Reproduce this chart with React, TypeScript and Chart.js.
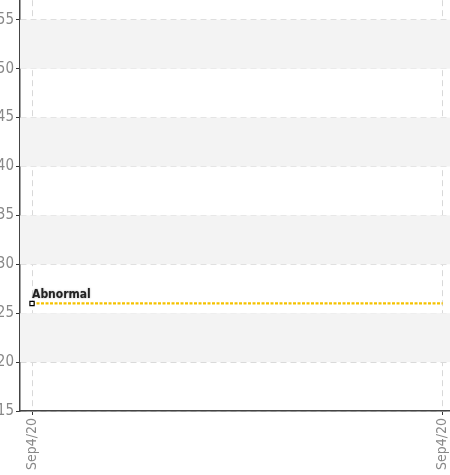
import React, { useEffect, useRef } from "react";
import { Chart, registerables } from "chart.js";

Chart.register(...registerables);

const tickDates = ["Sep4/20", "Sep4/20"];
const tickPositions = [0, 1];
const abnormalX = [0];
const abnormalY = [26];
const abnormalLabel = "Abnormal";
const referenceX = [0, 1];
const referenceY = [26, 26];
const yMin = 15;
const yMax = 57;
const yStep = 5;

const FONT = '"DejaVu Sans Condensed", "Liberation Sans Narrow", sans-serif';

const bandsPlugin = {
  id: "bands",
  beforeDatasetsDraw(chart: any) {
    const { ctx, chartArea, scales } = chart;
    const y = scales.y;
    ctx.save();
    ctx.fillStyle = "#f3f3f3";
    for (let v = 20; v < yMax; v += 10) {
      const top = y.getPixelForValue(Math.min(v + 5, yMax));
      const bot = y.getPixelForValue(v);
      ctx.fillRect(chartArea.left, top, chartArea.right - chartArea.left, bot - top);
    }
    ctx.restore();
  },
};

const labelPlugin = {
  id: "abnLabel",
  afterDatasetsDraw(chart: any) {
    const { ctx, scales } = chart;
    const px = scales.x.getPixelForValue(abnormalX[0]);
    const py = scales.y.getPixelForValue(abnormalY[0]);
    ctx.save();
    ctx.font = `bold 12px ${FONT}`;
    ctx.fillStyle = "#222";
    ctx.shadowColor = "rgba(0,0,0,0.35)";
    ctx.shadowBlur = 2;
    ctx.textBaseline = "alphabetic";
    ctx.textAlign = "left";
    ctx.fillText(abnormalLabel, px, py - 5);
    ctx.restore();
  },
};

const noPad = (scale: any) => {
  scale.paddingTop = 0;
  scale.paddingBottom = 0;
  scale.paddingLeft = 0;
  scale.paddingRight = 0;
};

const W = 456;
const H = 480;

export default function App() {
  const ref = useRef<HTMLCanvasElement>(null);
  useEffect(() => {
    const chart = new Chart(ref.current!, {
      type: "scatter",
      data: {
        datasets: [
          {
            data: referenceX.map((x, i) => ({ x, y: referenceY[i] })),
            showLine: true,
            borderColor: "#f5c200",
            borderWidth: 2.2,
            borderDash: [3, 1.5],
            pointRadius: 0,
            order: 2,
          } as any,
          {
            data: abnormalX.map((x, i) => ({ x, y: abnormalY[i] })),
            pointStyle: "rect",
            pointRadius: 3,
            pointBackgroundColor: "#fff",
            pointBorderColor: "#000",
            pointBorderWidth: 1.2,
            order: 1,
          },
        ],
      },
      options: {
        animation: false,
        responsive: false,
        maintainAspectRatio: false,
        layout: { padding: 0 },
        plugins: { legend: { display: false }, tooltip: { enabled: false } },
        scales: {
          x: {
            type: "linear",
            min: -12 / 410,
            max: 1 + 8 / 410,
            afterBuildTicks: (scale: any) => {
              scale.ticks = tickPositions.map((v) => ({ value: v }));
            },
            afterFit: (scale: any) => {
              scale.height = 64;
              noPad(scale);
            },
            ticks: {
              callback: (v: any) => tickDates[tickPositions.indexOf(Number(v))] ?? "",
              minRotation: 90,
              maxRotation: 90,
              color: "#888",
              font: { family: FONT, size: 14 },
              padding: 3,
              autoSkip: false,
            },
            grid: {
              color: "#d8d8d8",
              tickColor: "#333",
              tickLength: 4,
              tickBorderDash: [],
            },
            border: { color: "#444", width: 1.5, dash: [6, 4] },
          },
          y: {
            type: "linear",
            min: yMin,
            max: yMax,
            afterFit: (scale: any) => {
              scale.width = 20;
              noPad(scale);
            },
            ticks: {
              stepSize: yStep,
              includeBounds: false,
              color: "#888",
              font: { family: FONT, size: 15 },
              padding: 2,
            },
            grid: {
              color: "#d8d8d8",
              tickColor: "#333",
              tickLength: 4,
              tickBorderDash: [],
            },
            border: { color: "#444", width: 1.5, dash: [6, 4] },
          },
        },
      },
      plugins: [bandsPlugin, labelPlugin],
    });
    return () => chart.destroy();
  }, []);
  return (
    <div style={{ position: "fixed", left: 0, top: 0, width: 450, height: 475, overflow: "hidden" }}>
      <canvas
        ref={ref}
        width={W}
        height={H}
        style={{ width: W, height: H, position: "absolute", left: 0, top: -5 }}
      />
    </div>
  );
}
